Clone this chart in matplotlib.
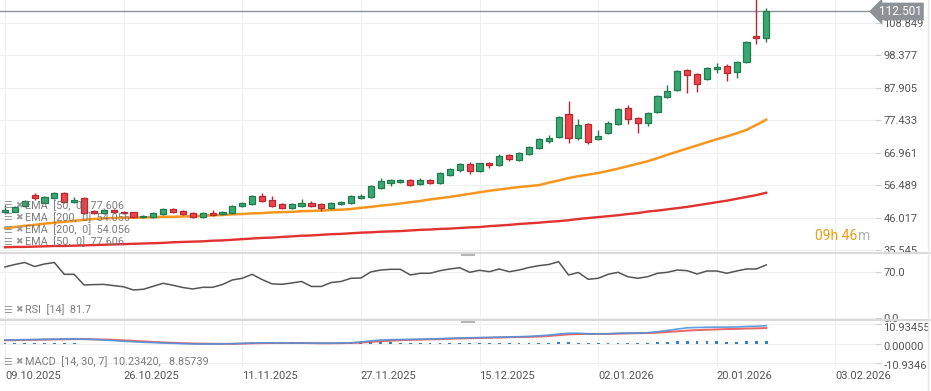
import matplotlib
matplotlib.use("Agg")
import numpy as np
import matplotlib.pyplot as plt
from matplotlib.lines import Line2D
from matplotlib.transforms import ScaledTranslation

plt.rcParams['font.family'] = ['Roboto', 'DejaVu Sans']

# -----------------------------
# Data
# -----------------------------
opens = [47.7, 48.0, 49.8, 53.3, 50.9, 52.3, 53.9, 51.1, 52.3, 48.2,
         47.4, 48.5, 47.9, 47.7, 46.4, 46.2, 47.2, 48.7, 48.2, 47.4,
         46.3, 47.6, 47.1, 47.4, 49.8, 50.4, 53.0, 51.7, 50.3, 49.2,
         49.8, 50.9, 50.3, 49.2, 50.4, 50.7, 52.3, 52.6, 55.5, 57.3,
         57.4, 58.2, 56.8, 58.1, 57.3, 59.8, 61.3, 63.3, 61.2, 63.6,
         63.0, 66.1, 64.7, 66.5, 68.4, 70.8, 71.9, 79.5, 71.6, 76.2,
         71.5, 73.2, 76.1, 81.3, 78.0, 76.6, 80.2, 85.0, 87.2, 93.5,
         92.3, 90.6, 93.8, 94.9, 92.9, 96.1, 104.6, 103.8]
closes = [48.5, 49.6, 51.5, 52.3, 52.6, 53.9, 51.2, 51.7, 47.4, 47.5,
          48.5, 47.8, 47.4, 46.2, 46.6, 47.4, 48.7, 47.9, 47.1, 46.3,
          47.6, 46.8, 47.9, 49.8, 50.9, 53.0, 51.3, 49.8, 49.2, 50.3,
          50.9, 49.9, 49.0, 50.9, 51.2, 53.0, 53.0, 56.2, 57.8, 58.2,
          58.2, 56.6, 58.2, 57.3, 60.3, 61.6, 63.3, 61.2, 63.5, 62.9,
          66.0, 64.8, 67.0, 68.8, 71.3, 71.8, 78.4, 71.6, 75.9, 70.5,
          72.3, 76.4, 81.0, 77.8, 76.6, 79.7, 85.2, 86.8, 93.3, 92.1,
          89.1, 94.2, 94.5, 92.7, 96.3, 102.5, 103.8, 112.5]
highs = [50.1, 49.9, 51.8, 53.9, 52.9, 54.2, 54.2, 52.6, 52.6, 48.5,
         48.8, 48.8, 48.2, 48.0, 46.9, 47.7, 49.0, 49.0, 48.5, 47.7,
         47.9, 48.4, 48.3, 50.1, 51.2, 53.3, 53.9, 53.0, 50.6, 50.6,
         51.9, 51.3, 50.6, 51.2, 51.5, 53.3, 53.6, 56.5, 58.8, 58.5,
         58.5, 58.5, 58.8, 58.4, 60.6, 61.9, 63.6, 63.9, 63.8, 63.9,
         66.6, 66.4, 67.3, 69.1, 71.6, 72.8, 78.7, 83.6, 77.8, 76.5,
         74.3, 77.3, 81.3, 82.3, 78.6, 80.0, 85.5, 88.8, 93.6, 93.8,
         92.6, 94.5, 95.8, 95.5, 96.6, 102.8, 118.0, 113.5]
lows = [47.3, 47.7, 49.5, 51.6, 50.6, 52.0, 50.9, 50.8, 47.1, 47.2,
        47.1, 47.5, 47.1, 45.9, 45.8, 45.9, 46.9, 47.6, 46.8, 46.0,
        46.0, 46.5, 46.8, 47.1, 49.5, 50.1, 51.0, 49.5, 48.9, 48.7,
        49.5, 49.6, 48.2, 48.9, 50.0, 50.4, 52.0, 52.3, 55.2, 56.2,
        57.1, 56.3, 56.5, 57.0, 57.0, 59.5, 60.6, 60.2, 60.9, 61.9,
        62.7, 64.2, 64.4, 66.2, 68.1, 70.0, 71.6, 70.2, 70.9, 69.8,
        71.2, 72.9, 75.8, 76.1, 73.4, 75.5, 79.9, 84.5, 86.9, 86.1,
        86.6, 90.3, 92.5, 90.2, 90.9, 95.8, 101.9, 102.7]

ema50 = [42.6, 43.0, 43.4, 43.7, 44.1, 44.4, 44.7, 45.0, 45.3, 45.6,
         45.8, 45.9, 46.0, 46.0, 46.1, 46.2, 46.3, 46.3, 46.4, 46.5,
         46.6, 46.8, 46.9, 47.1, 47.2, 47.4, 47.5, 47.7, 47.8, 47.9,
         48.1, 48.2, 48.3, 48.5, 48.6, 48.8, 49.2, 49.5, 49.9, 50.2,
         50.6, 51.0, 51.4, 51.9, 52.3, 52.7, 53.2, 53.7, 54.2, 54.7,
         55.1, 55.5, 55.9, 56.2, 56.5, 57.3, 58.0, 58.8, 59.4, 59.9,
         60.4, 61.1, 61.8, 62.6, 63.4, 64.2, 65.2, 66.3, 67.3, 68.3,
         69.3, 70.3, 71.3, 72.2, 73.2, 74.3, 75.9, 77.606]
ema200 = [36.5, 36.6, 36.6, 36.7, 36.8, 36.9, 36.9, 37.0, 37.1, 37.2,
          37.3, 37.4, 37.5, 37.6, 37.7, 37.8, 37.9, 38.1, 38.2, 38.3,
          38.4, 38.6, 38.7, 38.9, 39.1, 39.3, 39.5, 39.6, 39.8, 40.0,
          40.2, 40.3, 40.5, 40.7, 40.8, 41.0, 41.2, 41.3, 41.5, 41.6,
          41.7, 41.9, 42.1, 42.2, 42.4, 42.5, 42.7, 42.9, 43.0, 43.3,
          43.5, 43.7, 44.0, 44.2, 44.4, 44.7, 44.9, 45.2, 45.6, 45.9,
          46.2, 46.5, 46.8, 47.2, 47.5, 48.0, 48.3, 48.7, 49.1, 49.5,
          50.0, 50.5, 51.0, 51.5, 52.1, 52.7, 53.3, 54.056]

rsi = [78.5, 82.3, 85.4, 79.2, 83.1, 85.4, 67.2, 67.2, 50.8, 51.4,
       51.7, 49.8, 48.0, 43.1, 44.2, 48.8, 53.4, 50.3, 46.9, 44.6,
       47.2, 47.2, 51.5, 58.5, 61.1, 67.2, 59.2, 52.6, 51.8, 53.8,
       56.2, 48.5, 48.5, 54.6, 56.2, 61.1, 61.5, 70.8, 73.8, 74.9,
       74.9, 66.2, 68.8, 68.8, 72.8, 75.4, 77.4, 70.3, 73.4, 71.2,
       75.4, 71.2, 73.8, 77.7, 80.5, 82.3, 86.6, 66.2, 70.0, 59.5,
       61.1, 67.2, 70.3, 63.5, 61.1, 63.5, 68.8, 70.3, 73.8, 72.8,
       67.7, 72.3, 72.3, 68.8, 72.3, 75.4, 75.4, 81.7]

macd = [2.0, 2.1, 2.2, 2.3, 2.4, 2.5, 2.6, 2.6, 2.5, 2.3,
        2.0, 1.7, 1.3, 1.0, 0.7, 0.5, 0.3, 0.1, -0.1, -0.2,
        -0.3, -0.3, -0.2, -0.1, 0.1, 0.3, 0.4, 0.4, 0.3, 0.3,
        0.3, 0.2, 0.2, 0.2, 0.3, 0.4, 0.9, 1.5, 2.0, 2.2,
        2.3, 2.4, 2.5, 2.6, 2.8, 3.0, 3.2, 3.3, 3.4, 3.5,
        3.7, 3.8, 3.9, 4.1, 4.4, 4.8, 5.4, 5.9, 5.9, 5.6,
        5.5, 5.6, 5.9, 6.0, 6.0, 6.2, 6.8, 7.5, 8.3, 9.0,
        9.2, 9.3, 9.4, 9.4, 9.5, 9.8, 9.9, 10.2342]
signal = [1.8, 1.9, 2.0, 2.1, 2.2, 2.3, 2.4, 2.5, 2.5, 2.4,
          2.3, 2.1, 1.8, 1.5, 1.2, 0.9, 0.6, 0.4, 0.2, 0.0,
          -0.1, -0.2, -0.2, -0.2, -0.1, 0.1, 0.2, 0.3, 0.3, 0.3,
          0.3, 0.2, 0.1, 0.1, 0.2, 0.3, 0.5, 0.9, 1.3, 1.6,
          1.9, 2.1, 2.2, 2.4, 2.5, 2.7, 2.9, 3.0, 3.2, 3.3,
          3.4, 3.6, 3.7, 3.8, 4.0, 4.3, 4.8, 5.2, 5.4, 5.5,
          5.5, 5.5, 5.6, 5.8, 5.9, 6.0, 6.2, 6.6, 7.0, 7.4,
          7.7, 7.9, 8.1, 8.3, 8.4, 8.6, 8.7, 8.85739]
hist = [0.2, 0.2, 0.2, 0.2, 0.2, 0.2, 0.2, 0.1, 0.0, -0.1,
        -0.3, -0.4, -0.5, -0.5, -0.5, -0.4, -0.3, -0.3, -0.3, -0.2,
        -0.2, -0.1, 0.0, 0.1, 0.2, 0.2, 0.2, 0.1, 0.1, 0.1,
        0.1, 0.1, 0.1, 0.1, 0.1, 0.2, 0.4, 0.6, 0.7, 0.6,
        0.4, 0.3, 0.3, 0.2, 0.3, 0.3, 0.3, 0.3, 0.2, 0.2,
        0.3, 0.2, 0.2, 0.3, 0.4, 0.5, 0.6, 0.7, 0.5, 0.2,
        0.2, 0.2, 0.3, 0.2, 0.2, 0.2, 0.6, 0.9, 1.3, 1.6,
        1.5, 1.4, 1.3, 1.1, 1.1, 1.2, 1.2, 1.377]

date_ticks = [0, 12, 24, 36, 48, 60, 72, 84]
date_labels = ["09.10.2025", "26.10.2025", "11.11.2025", "27.11.2025",
               "15.12.2025", "02.01.2026", "20.01.2026", "03.02.2026"]
price_ticks = [35.545, 46.017, 56.489, 66.961, 77.433, 87.905, 98.377, 108.849]
last_price = 112.501

# -----------------------------
# Figure / axes layout (pixel based)
# -----------------------------
W, H = 931, 391
fig = plt.figure(figsize=(W / 100, H / 100), dpi=100)
fig.patch.set_facecolor('white')


def fx(px):
    return px / W


def fy(py):
    return 1 - py / H


RIGHT = 875
ax_main = fig.add_axes([0, fy(253), fx(RIGHT), 253 / H])
ax_rsi = fig.add_axes([0, fy(320), fx(RIGHT), 67 / H], sharex=ax_main)
ax_macd = fig.add_axes([0, fy(367), fx(RIGHT), 47 / H], sharex=ax_main)

for ax in (ax_main, ax_rsi, ax_macd):
    for s in ax.spines.values():
        s.set_visible(False)
    ax.yaxis.tick_right()
    ax.tick_params(axis='y', length=4, color='#d0d0d0', labelcolor='#555555',
                   labelsize=8, pad=2)
    ax.tick_params(axis='x', length=0, labelsize=8, labelcolor='#555555')
    ax.grid(True, color='#efefef', lw=0.8)
    ax.set_axisbelow(True)

x = np.arange(len(opens))
o = np.array(opens)
c = np.array(closes)
up = c >= o
fill = np.where(up, '#3aa873', '#f0434c')
edge = np.where(up, '#1f7a4c', '#b8262e')

# Main panel: candles + EMAs
ax_main.plot(x, ema50, color='#f7961e', lw=1.8, zorder=2)
ax_main.plot(x, ema200, color='#e2312e', lw=1.7, zorder=2)
ax_main.vlines(x, lows, highs, colors=edge, lw=1, zorder=3)
body_bottom = np.minimum(o, c)
body_height = np.maximum(np.abs(c - o), 0.3)
ax_main.bar(x, body_height, bottom=body_bottom, width=0.62, color=fill,
            edgecolor=edge, lw=0.9, zorder=4)
ax_main.axhline(last_price, color='#8d9297', lw=1, zorder=1)
ax_main.set_ylim(34.64, 116.16)
ax_main.set_yticks(price_ticks)
ax_main.set_yticklabels([f"{v:.3f}" for v in price_ticks])
ax_main.tick_params(axis='x', labelbottom=False)

# RSI panel
ax_rsi.plot(x, rsi, color='#555555', lw=1.1)
ax_rsi.set_ylim(-3.1, 100)
ax_rsi.set_yticks([0, 70])
ax_rsi.set_yticklabels(['0.0', '70.0'])
ax_rsi.tick_params(axis='x', labelbottom=False)

# MACD panel
h = np.array(hist)
ax_macd.bar(x, h, width=0.28, color=np.where(h >= 0, '#2f80d1', '#e03c3c'),
            zorder=2)
ax_macd.plot(x, signal, color='#e84a4a', lw=1.4, alpha=0.85, zorder=3)
ax_macd.plot(x, macd, color='#4d94dc', lw=1.2, alpha=0.9, zorder=3)
ax_macd.set_ylim(-13.5, 13.5)
ax_macd.set_yticks([-10.93455, 0, 10.93455])
ax_macd.set_yticklabels(['-10.9346', '0.00000', '10.93455'])
shift = ScaledTranslation(0, -2.5 / 100, fig.dpi_scale_trans)
for lab in ax_macd.get_yticklabels():
    lab.set_transform(lab.get_transform() + shift)

ax_macd.set_xlim(-0.5, 88)
ax_macd.set_xticks(date_ticks)
ax_macd.set_xticklabels(date_labels)
ax_macd.tick_params(axis='x', pad=3)
for lab in ax_macd.get_xticklabels():
    lab.set_ha('left')

# Panel separators and handles
for py in (253, 320):
    fig.add_artist(Line2D([0, 1], [fy(py), fy(py)], transform=fig.transFigure,
                          color='#dadada', lw=1.5))
    fig.add_artist(Line2D([fx(462), fx(474)], [fy(py + 1.5), fy(py + 1.5)],
                          transform=fig.transFigure, color='#b5b5b5', lw=1.5))
fig.add_artist(Line2D([fx(RIGHT), fx(870)], [fy(11.3), fy(11.3)],
                      transform=fig.transFigure, color='#8d9297', lw=1))
fig.add_artist(Line2D([fx(928), fx(928)], [0, 1], transform=fig.transFigure,
                      color='#e6e6e6', lw=1))

# Last price tag
fig.text(fx(900), fy(11.5), f"{last_price:.3f}", ha='center', va='center',
         color='white', fontsize=8.5,
         bbox=dict(boxstyle='larrow,pad=0.2', fc='#8d9297', ec='none'))

# Countdown text
fig.text(fx(815), fy(236), "09h 46", ha='left', va='center', color='#f39c12',
         fontsize=10)
fig.text(fx(858), fy(236), "m", ha='left', va='center', color='#b0b0b0',
         fontsize=10)

# Indicator legends
legend_rows = [(205.5, "EMA  [50,  0]  77.606"),
               (217.5, "EMA  [200,  0]  54.056"),
               (229.5, "EMA  [200,  0]  54.056"),
               (242, "EMA  [50,  0]  77.606"),
               (310, "RSI  [14]  81.7"),
               (362, "MACD  [14, 30, 7]  10.23420,   8.85739")]
for py, txt in legend_rows:
    fig.text(fx(3), fy(py), "\u2630", ha='left', va='center', color='#9a9a9a',
             fontsize=7, family=['DejaVu Sans'])
    fig.text(fx(15), fy(py), "\u2716", ha='left', va='center', color='#9a9a9a',
             fontsize=6.5, family=['DejaVu Sans'])
    fig.text(fx(25), fy(py), txt, ha='left', va='center', color='#707070',
             fontsize=7.8, alpha=0.9)

fig.savefig("out.png", dpi=100, facecolor='white')
